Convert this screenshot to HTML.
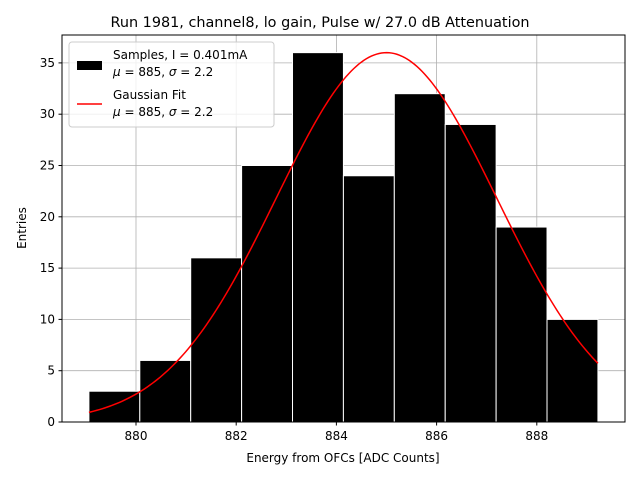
<!DOCTYPE html>
<html><head><meta charset="utf-8"><style>
body{margin:0;background:#fff;font-family:"Liberation Sans","DejaVu Sans",sans-serif;}
svg text{font-family:"DejaVu Sans","Liberation Sans",sans-serif;}
</style></head><body>
<svg id="chart" width="640" height="480" xmlns="http://www.w3.org/2000/svg">
<rect width="640" height="480" fill="#fff"/>
<g id="grid"></g>
<g id="bars"></g>
<g id="curve"></g>
<rect x="62" y="35" width="563" height="387" fill="none" stroke="#000" stroke-width="1"/>
<g id="ticks"></g>
<text x="320" y="27" font-size="14.4" text-anchor="middle">Run 1981, channel8, lo gain, Pulse w/ 27.0 dB Attenuation</text>
<text x="343" y="462" font-size="12" text-anchor="middle">Energy from OFCs [ADC Counts]</text>
<text x="26" y="228" font-size="12" text-anchor="middle" transform="rotate(-90 26 228)">Entries</text>
<g>
<rect x="69" y="42" width="205" height="85" rx="3" fill="#fff" fill-opacity="0.8" stroke="#ccc"/>
<rect x="77" y="61" width="25" height="9" fill="#000"/>
<text x="113" y="59" font-size="12">Samples, I = 0.401mA</text>
<text x="113" y="76" font-size="12"><tspan font-style="italic">μ</tspan> = 885, <tspan font-style="italic">σ</tspan> = 2.2</text>
<line x1="77" y1="104" x2="102" y2="104" stroke="red" stroke-width="1.5"/>
<text x="113" y="99" font-size="12">Gaussian Fit</text>
<text x="113" y="116" font-size="12"><tspan font-style="italic">μ</tspan> = 885, <tspan font-style="italic">σ</tspan> = 2.2</text>
</g>
</svg>
<script>
const binStart = 879.06;
const binWidth = 1.016;
const counts = [3, 6, 16, 25, 36, 24, 32, 29, 19, 10];
const xTicks = [880, 882, 884, 886, 888];
const yTicks = [0, 5, 10, 15, 20, 25, 30, 35];
const fitAmp = 36, fitMu = 885, fitSigma = 2.2;

const NS = "http://www.w3.org/2000/svg";
const X = v => 136 + (v - 880) * 50.1;
const Y = v => 422 - v * 10.26;
function mk(tag, attrs, parent){const e=document.createElementNS(NS,tag);for(const k in attrs)e.setAttribute(k,attrs[k]);parent.appendChild(e);return e;}
const grid=document.getElementById('grid'), bars=document.getElementById('bars'), ticks=document.getElementById('ticks'), curve=document.getElementById('curve');
xTicks.forEach(t=>{
  const l=mk('line',{x1:X(t),x2:X(t),y1:35,y2:422,stroke:'#b0b0b0','stroke-width':0.8},grid);
  
  
  mk('line',{x1:X(t),x2:X(t),y1:422,y2:425.5,stroke:'#000'},ticks);
  const tx=mk('text',{x:X(t),y:440,'font-size':12,'text-anchor':'middle'},ticks);
  tx.textContent=t;
  
  
});
yTicks.forEach(t=>{
  const l=mk('line',{x1:62,x2:625,y1:Y(t),y2:Y(t),stroke:'#b0b0b0','stroke-width':0.8},grid);
  
  
  mk('line',{x1:58.5,x2:62,y1:Y(t),y2:Y(t),stroke:'#000'},ticks);
  const tx=mk('text',{x:55,y:Y(t)+4,'font-size':12,'text-anchor':'end'},ticks);
  tx.textContent=t;
  
  
});
counts.forEach((c,i)=>{
  const x0=X(binStart+i*binWidth), x1=X(binStart+(i+1)*binWidth);
  const r=mk('rect',{x:x0,y:Y(c),width:x1-x0,height:Y(0)-Y(c),fill:'#000',stroke:'#fff','stroke-width':1},bars);
  
  
});
let d='';
const a=binStart, b=binStart+counts.length*binWidth;
for(let i=0;i<=200;i++){const v=a+(b-a)*i/200;const y=fitAmp*Math.exp(-((v-fitMu)**2)/(2*fitSigma*fitSigma));d+=(i?'L':'M')+X(v).toFixed(2)+' '+Y(y).toFixed(2);}
const p=mk('path',{d:d,fill:'none',stroke:'red','stroke-width':1.5},curve);


</script>
</body></html>
